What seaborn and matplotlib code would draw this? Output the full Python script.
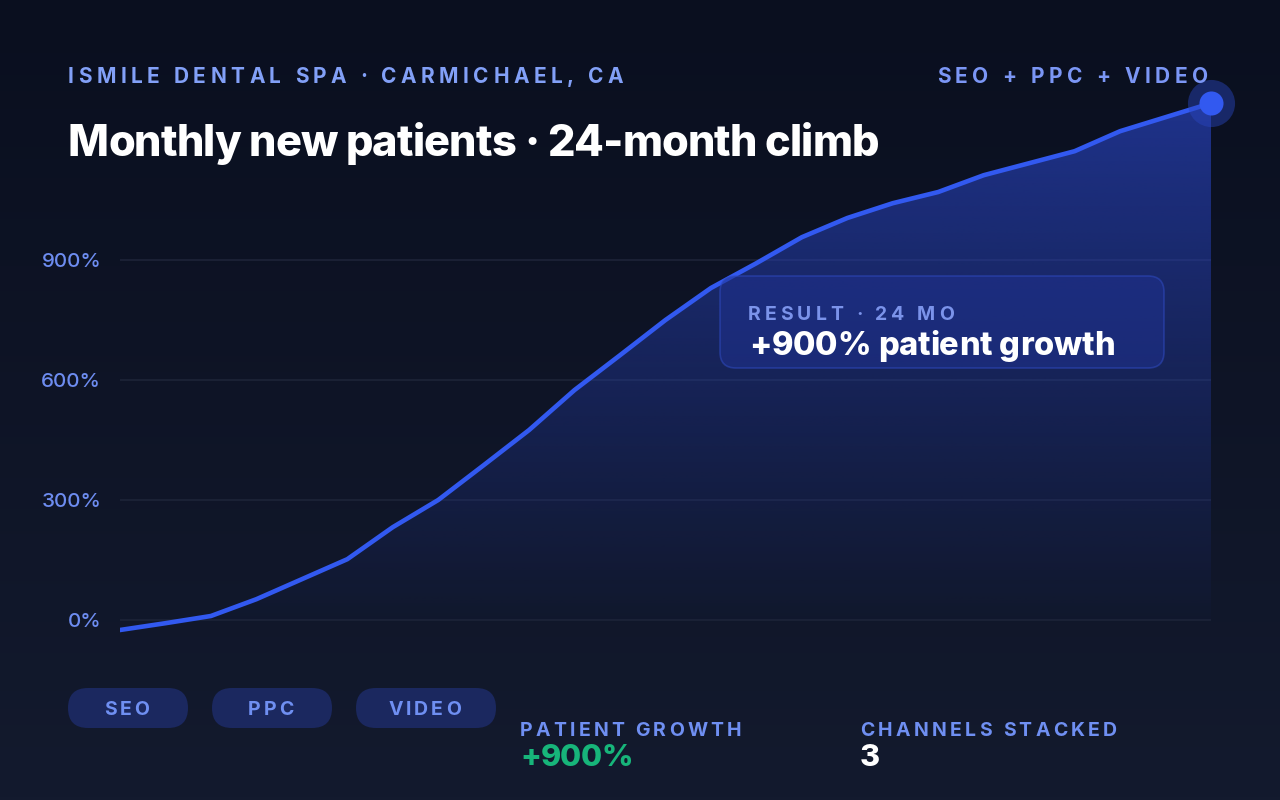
import matplotlib
matplotlib.use("Agg")
import matplotlib.pyplot as plt
from matplotlib import font_manager
from matplotlib.font_manager import FontProperties
from matplotlib.patches import FancyBboxPatch
import numpy as np
import pandas as pd
import seaborn as sns

# Data
months = list(range(25))
growth = [-25, -8, 10, 52, 102, 152, 232, 300, 387, 475, 575, 662, 750, 830,
          892, 957, 1005, 1042, 1070, 1112, 1142, 1172, 1222, 1257, 1292]
tick_vals = [0, 300, 600, 900]
tick_labels = ["0%", "300%", "600%", "900%"]
channels = ["SEO", "PPC", "VIDEO"]

W, H = 1280, 800
BG_TOP, BG_BOT = "#0a0f1f", "#131a2e"
LINE = "#3259f0"
HEAD = "#82a0f7"
TICK = "#6d8cf0"

sns.set_theme(style="white")
plt.rcParams["font.family"] = ["Inter", "DejaVu Sans"]


def inter(weight, size):
    # pick the static Inter file of the wanted weight
    for f in font_manager.fontManager.ttflist:
        if f.name == "Inter" and f.style == "normal" and f.weight == weight \
                and "[" not in f.fname:
            return FontProperties(fname=f.fname, size=size)
    return FontProperties(family="Inter", weight=weight, size=size)


fig = plt.figure(figsize=(W / 100, H / 100), dpi=100)
renderer = fig.canvas.get_renderer()

# background gradient
bg = fig.add_axes([0, 0, 1, 1], zorder=-10)
top = np.array(matplotlib.colors.to_rgb(BG_TOP))
bot = np.array(matplotlib.colors.to_rgb(BG_BOT))
t = np.linspace(0, 1, 256)[:, None]
bg.imshow((top * (1 - t) + bot * t)[:, None, :].repeat(2, axis=1), aspect="auto",
          extent=[0, 1, 0, 1], origin="upper")
bg.set_axis_off()

# overlay in pixel coordinates (y down) for boxes and text
ov = fig.add_axes([0, 0, 1, 1], zorder=5)
ov.set_xlim(0, W)
ov.set_ylim(H, 0)
ov.set_axis_off()
ov.patch.set_alpha(0)


def text_w(s, fp):
    return renderer.get_text_width_height_descent(s, fp, ismath=False)[0]


def spaced(x, y, s, fp, color, spacing, ha="left"):
    space_w = text_w("a a", fp) - text_w("aa", fp)
    widths = [space_w if c == " " else text_w(c, fp) for c in s]
    total = sum(widths) + spacing * (len(s) - 1)
    if ha == "right":
        x -= total
    elif ha == "center":
        x -= total / 2
    for c, w in zip(s, widths):
        if c != " ":
            ov.text(x, y, c, fontproperties=fp, color=color, va="baseline", zorder=10)
        x += w + spacing


# main chart axes: x 120..1211 px, y 100..640 px
ylo, yhi = -50, 1300
ax = fig.add_axes([120 / W, 1 - 640 / H, 1091 / W, 540 / H])
ax.set_facecolor("none")
df = pd.DataFrame({"month": months, "growth": growth})

# gradient fill under the line
poly = ax.fill_between(df["month"], df["growth"], 0, color="none", lw=0)
fill_rgb = np.array(matplotlib.colors.to_rgb("#2a46c8"))
grad = np.zeros((256, 2, 4))
grad[:, :, :3] = fill_rgb
grad[:, :, 3] = np.linspace(0.64, 0.02, 256)[:, None]
im = ax.imshow(grad, aspect="auto", extent=[0, 24, 0, yhi], origin="upper", zorder=1)
im.set_clip_path(poly.get_paths()[0], transform=ax.transData)

sns.lineplot(data=df, x="month", y="growth", ax=ax, color=LINE, lw=3.3,
             zorder=3, solid_capstyle="round")
ax.scatter([months[-1]], [growth[-1]], s=1150, color="#2a46c0", alpha=0.45,
           lw=0, zorder=4, clip_on=False)
ax.scatter([months[-1]], [growth[-1]], s=300, color=LINE, lw=0, zorder=5, clip_on=False)

ax.set_xlim(0, 24)
ax.set_ylim(ylo, yhi)
ax.set_yticks(tick_vals)
ax.set_yticklabels(tick_labels)
ax.set_xticks([])
ax.tick_params(axis="y", length=0, pad=13.5, labelcolor=TICK)
ax.grid(axis="y", color="#1d2438", lw=1.2)
ax.grid(axis="x", visible=False)
ax.set_xlabel("")
ax.set_ylabel("")
for sp in ax.spines.values():
    sp.set_visible(False)
tick_fp = inter(500, 14.8)
for lab in ax.get_yticklabels():
    lab.set_fontproperties(tick_fp)

# header texts
spaced(68, 83, "ISMILE DENTAL SPA · CARMICHAEL, CA", inter(700, 15), HEAD, 4.5)
spaced(1208, 83, "SEO + PPC + VIDEO", inter(700, 15), "#7b96f5", 4.6, ha="right")
spaced(68, 156, "Monthly new patients · 24-month climb", inter(800, 31.2), "white", -0.85)

# result call-out box
ov.add_patch(FancyBboxPatch((720, 276), 444, 92, boxstyle="round,pad=0,rounding_size=16",
                            facecolor="#1f3190", alpha=0.55, edgecolor="#2f4ac0",
                            lw=1.2, zorder=6))
spaced(748, 320, "RESULT · 24 MO", inter(700, 14), "#7b93ea", 4.0)
spaced(749, 355, "+900% patient growth", inter(800, 23.5), "white", -0.1)

# channel pills
pill_x = [68, 212, 356]
pill_w = [120, 120, 140]
for name, x0, w in zip(channels, pill_x, pill_w):
    ov.add_patch(FancyBboxPatch((x0, 688), w, 40, boxstyle="round,pad=0,rounding_size=20",
                                facecolor="#1b285f", edgecolor="none", zorder=6))
    spaced(x0 + w / 2 - 1.5, 715, name, inter(700, 14), "#6f8ff2", 3.0, ha="center")

# bottom stats
spaced(520, 736, "PATIENT GROWTH", inter(700, 14), "#6f8ff2", 3.2)
spaced(520, 766, "+900%", inter(800, 22), "#17b57a", -0.5)
spaced(860, 736, "CHANNELS STACKED", inter(700, 14), "#6f8ff2", 3.3)
spaced(860, 766, "3", inter(800, 22), "white", 0)

fig.savefig("out.png", dpi=100)
